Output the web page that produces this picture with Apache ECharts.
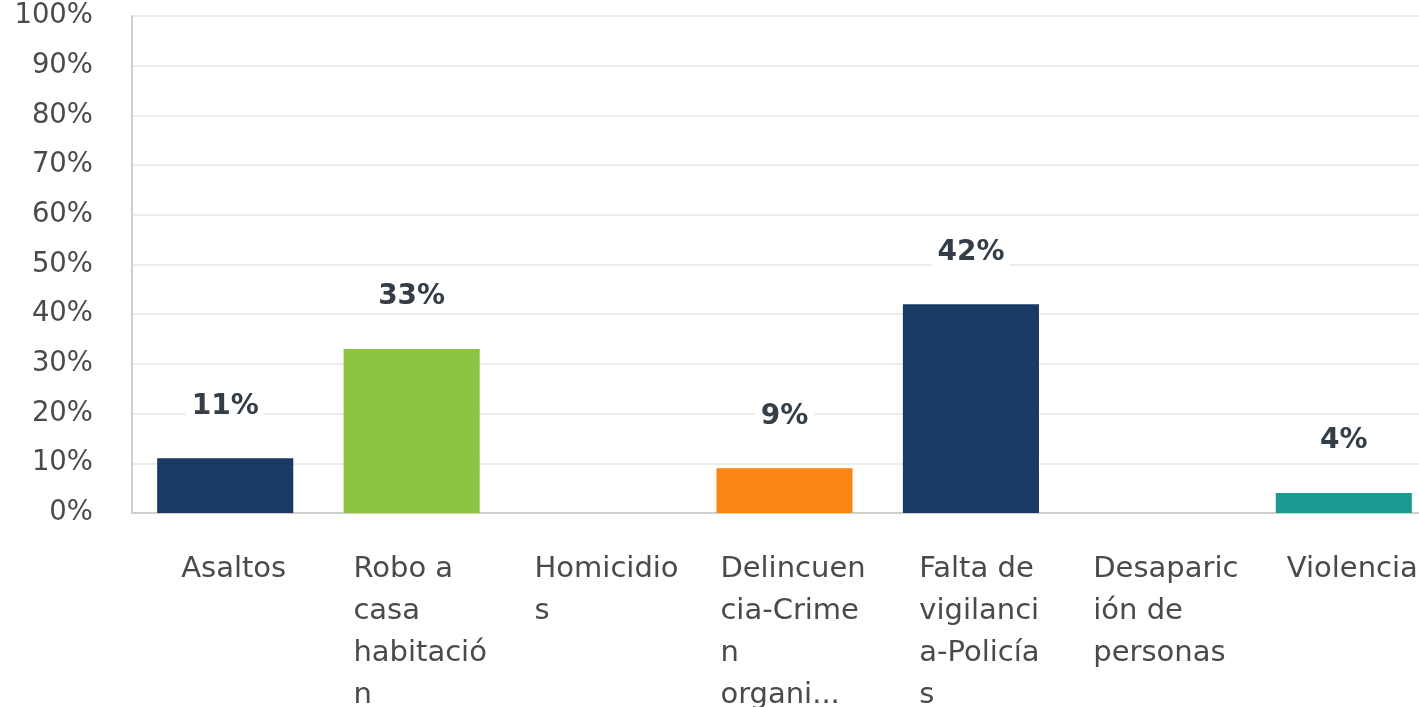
<!DOCTYPE html>
<html>
<head>
<meta charset="utf-8">
<script src="https://cdn.jsdelivr.net/npm/echarts@6/dist/echarts.min.js"></script>
<style>
  html, body { margin: 0; padding: 0; background: #ffffff; overflow: hidden; }
  #chart { width: 1437px; height: 707px; }
</style>
</head>
<body>
<div id="chart"></div>
<script>
// categories and values
const categories = [
  "Asaltos",
  "Robo a casa habitación",
  "Homicidios",
  "Delincuencia-Crimen organizado",
  "Falta de vigilancia-Policías",
  "Desaparición de personas",
  "Violencia",
];
// wrapped tick labels as they appear under the axis
const tickLabels = [
  ["Asaltos"],
  ["Robo a", "casa", "habitació", "n"],
  ["Homicidio", "s"],
  ["Delincuen", "cia-Crime", "n", "organi..."],
  ["Falta de", "vigilanci", "a-Policía", "s"],
  ["Desaparic", "ión de", "personas"],
  ["Violencia"],
];
const values = [11, 33, 0, 9, 42, 0, 4];
const barColors = ["#193a63", "#8bc441", "#193a63", "#f98613", "#193a63", "#193a63", "#1a9a93"];
const yTicks = [0, 10, 20, 30, 40, 50, 60, 70, 80, 90, 100];

const FONT = "'DejaVu Sans', sans-serif";

const chart = echarts.init(document.getElementById("chart"));

const option = {
  animation: false,
  backgroundColor: "#ffffff",
  grid: {
    left: 132,
    right: 0,
    top: 16,
    bottom: 194,
    outerBoundsMode: "none",
    containLabel: false,
  },
  xAxis: {
    type: "category",
    data: categories,
    axisLine: { show: true, lineStyle: { color: "#d0d0d0", width: 2 } },
    axisTick: { show: false },
    axisLabel: {
      interval: 0,
      margin: 35,
      color: "#4a4a4a",
      fontFamily: FONT,
      fontSize: 29,
      lineHeight: 42,
      align: "center",
      verticalAlign: "top",
      padding: [0, 0, 0, 17],
      formatter: (value, index) =>
        tickLabels[index].map((line) => `{l|${line}}`).join("\n"),
      rich: {
        l: {
          align: "left",
          color: "#4a4a4a",
          fontFamily: FONT,
          fontSize: 29,
          lineHeight: 42,
        },
      },
    },
  },
  yAxis: {
    type: "value",
    min: yTicks[0],
    max: yTicks[yTicks.length - 1],
    interval: 10,
    axisLine: { show: true, lineStyle: { color: "#d0d0d0", width: 2 } },
    axisTick: { show: false },
    axisLabel: {
      margin: 39,
      color: "#4a4a4a",
      fontFamily: FONT,
      fontSize: 27.5,
      formatter: "{value}%",
    },
    splitLine: { show: true, lineStyle: { color: "#ececec", width: 2 } },
  },
  series: [
    {
      type: "bar",
      data: values.map((v, i) => ({
        value: v,
        itemStyle: { color: barColors[i] },
        label: { show: v > 0 },
      })),
      barCategoryGap: "27%",
      label: {
        show: true,
        position: "top",
        distance: 36,
        formatter: "{c}%",
        color: "#333e48",
        fontFamily: FONT,
        fontSize: 28,
        fontWeight: "bold",
        backgroundColor: "#ffffff",
        padding: [2, 6],
      },
    },
  ],
};

chart.setOption(option);
</script>
</body>
</html>
